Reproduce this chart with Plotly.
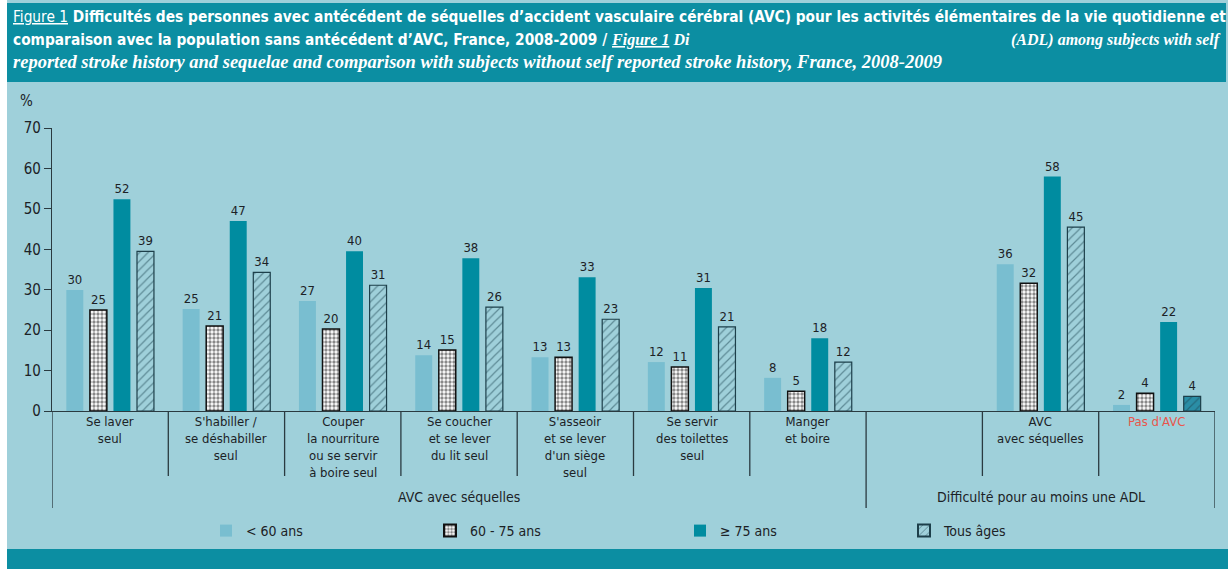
import plotly.graph_objects as go

# ---------------- data ----------------
categories = [
    "Se laver<br>seul",
    "S'habiller /<br>se déshabiller<br>seul",
    "Couper<br>la nourriture<br>ou se servir<br>à boire seul",
    "Se coucher<br>et se lever<br>du lit seul",
    "S'asseoir<br>et se lever<br>d'un siège<br>seul",
    "Se servir<br>des toilettes<br>seul",
    "Manger<br>et boire",
    "",
    "AVC<br>avec séquelles",
    "<span style='color:#e8564c'>Pas d'AVC</span>",
]
group_names = ["AVC avec séquelles", "Difficulté pour au moins une ADL"]
group_first = [0, 7]
group_last = [6, 9]

series_names = ["< 60 ans", "60 - 75 ans", "≥ 75 ans", "Tous âges"]
v_lt60 = [29.9, 25.2, 27.2, 13.8, 13.3, 12.1, 8.2, None, 36.3, 1.5]
v_60_75 = [25.0, 21.0, 20.3, 15.1, 13.3, 10.9, 4.9, None, 31.6, 4.4]
v_ge75 = [52.4, 47.0, 39.5, 37.8, 33.1, 30.4, 18.0, None, 58.0, 22.0]
v_all = [39.5, 34.3, 31.1, 25.7, 22.7, 20.8, 12.1, None, 45.5, 3.6]
lab_lt60 = ["30", "25", "27", "14", "13", "12", "8", "", "36", "2"]
lab_60_75 = ["25", "21", "20", "15", "13", "11", "5", "", "32", "4"]
lab_ge75 = ["52", "47", "40", "38", "33", "31", "18", "", "58", "22"]
lab_all = ["39", "34", "31", "26", "23", "21", "12", "", "45", "4"]

y_ticks = [0, 10, 20, 30, 40, 50, 60, 70]

title_l1 = ("<u><span style='font-weight:normal'>Figure 1</span></u> Difficultés des personnes avec antécédent de "
            "séquelles d’accident vasculaire cérébral (AVC) pour les activités élémentaires de la vie quotidienne et")
title_l2a = ("comparaison avec la population sans antécédent d’AVC, France, 2008-2009 / "
             "<span style='font-family:Liberation Serif;font-size:16px'><i><u>Figure 1</u> Di</i></span>")
title_l2b = "(ADL) among subjects with self"
title_l3 = ("reported stroke history and sequelae and comparison with subjects without self "
            "reported stroke history, France, 2008-2009")

# ---------------- styling ----------------
W, H = 1231, 569
BG = "#9fd0da"
TEAL = "#0c8ea2"
LIGHT = "#79bed0"
DARK = "#008ca0"
INK = "#1c2226"
LINE = "#2a3a40"
FONT = "Liberation Sans Narrow, DejaVu Sans Condensed, Arial Narrow, sans-serif"
SERIF = "Liberation Serif, DejaVu Serif, serif"

x0_px, x1_px = 52, 1215
y0_px, y70_px = 411, 128


def px(x):
    return x / W


def py(y):
    return 1 - y / H


xs = list(range(len(categories)))

fig = go.Figure()

common = dict(textposition="outside", cliponaxis=False,
              textfont=dict(family=FONT, size=13, color=INK))

fig.add_trace(go.Bar(x=xs, y=v_lt60, text=lab_lt60, name=series_names[0],
                     marker=dict(color=LIGHT, line=dict(width=0)), legend="legend", **common))
fig.add_trace(go.Bar(x=xs, y=v_60_75, text=lab_60_75, name=series_names[1],
                     marker=dict(color="white", line=dict(color="#111111", width=1.5),
                                 pattern=dict(shape=".", fgcolor="#111111", bgcolor="white",
                                              size=4, solidity=0.55)),
                     legend="legend2", **common))
fig.add_trace(go.Bar(x=xs, y=v_ge75, text=lab_ge75, name=series_names[2],
                     marker=dict(color=DARK, line=dict(width=0)), legend="legend3", **common))
all_bg = [BG] * (len(xs) - 1) + ["#2a8ea6"]
fig.add_trace(go.Bar(x=xs, y=v_all, text=lab_all, name=series_names[3],
                     marker=dict(color=BG, line=dict(color="#1d3f4a", width=1.2),
                                 pattern=dict(shape="/", fgcolor="#1d4552", bgcolor=all_bg,
                                              size=6, solidity=0.2)),
                     legend="legend4", **common))

shapes = []
# light background panel
shapes.append(dict(type="rect", xref="paper", yref="paper", x0=px(7), x1=px(1228), y0=0, y1=1,
                   fillcolor=BG, line=dict(width=0), layer="below"))
# title banner
shapes.append(dict(type="rect", xref="paper", yref="paper", x0=px(7), x1=px(1226), y0=py(82), y1=py(3),
                   fillcolor=TEAL, line=dict(width=0), layer="below"))
# bottom band
shapes.append(dict(type="rect", xref="paper", yref="paper", x0=px(7), x1=px(1228), y0=0, y1=py(549),
                   fillcolor=TEAL, line=dict(width=0), layer="below"))

# category separators
long_edges = set()
for a, b in zip(group_first, group_last):
    long_edges.add(a - 0.5)
    long_edges.add(b + 0.5)
for k in range(len(categories) + 1):
    xe = k - 0.5
    ybot = py(508) if xe in long_edges else py(476)
    shapes.append(dict(type="line", xref="x", yref="paper", x0=xe, x1=xe, y0=py(y0_px), y1=ybot,
                       line=dict(color=LINE, width=1.3)))

annotations = []
for i, c in enumerate(categories):
    if c:
        annotations.append(dict(x=i, xref="x", y=py(412), yref="paper", text=c, showarrow=False,
                                xanchor="center", yanchor="top",
                                font=dict(family=FONT, size=13, color=INK)))
for g, a, b in zip(group_names, group_first, group_last):
    annotations.append(dict(x=(a + b) / 2, xref="x", y=py(497), yref="paper", text=g, showarrow=False,
                            xanchor="center", yanchor="middle",
                            font=dict(family=FONT, size=14, color=INK)))
annotations.append(dict(x=px(27), y=py(101), xref="paper", yref="paper", text="%", showarrow=False,
                        xanchor="center", yanchor="middle", font=dict(family=FONT, size=15, color=INK)))

tfont = dict(family=FONT, size=15.3, color="white")
annotations.append(dict(x=px(11), y=py(17), xref="paper", yref="paper", text="<b>" + title_l1 + "</b>",
                        showarrow=False, xanchor="left", yanchor="middle", font=tfont))
annotations.append(dict(x=px(11), y=py(40), xref="paper", yref="paper", text="<b>" + title_l2a + "</b>",
                        showarrow=False, xanchor="left", yanchor="middle", font=tfont))
annotations.append(dict(x=px(1223), y=py(40), xref="paper", yref="paper", text="<b><i>" + title_l2b + "</i></b>",
                        showarrow=False, xanchor="right", yanchor="middle",
                        font=dict(family=SERIF, size=16, color="white")))
annotations.append(dict(x=px(11), y=py(62), xref="paper", yref="paper", text="<b><i>" + title_l3 + "</i></b>",
                        showarrow=False, xanchor="left", yanchor="middle",
                        font=dict(family=SERIF, size=18.5, color="white")))

leg_font = dict(family=FONT, size=14, color=INK)
leg_common = dict(orientation="h", yanchor="middle", y=py(531), xanchor="left",
                  bgcolor="rgba(0,0,0,0)", font=leg_font, itemsizing="constant")

fig.update_layout(
    width=W, height=H,
    margin=dict(l=0, r=0, t=0, b=0, pad=0, autoexpand=False),
    paper_bgcolor="white",
    plot_bgcolor="rgba(0,0,0,0)",
    barmode="group", bargap=0.19, bargroupgap=0.28,
    xaxis=dict(domain=[px(x0_px), px(x1_px)], range=[-0.5, len(categories) - 0.5],
               showticklabels=False, ticks="", showgrid=False, zeroline=False, automargin=False,
               showline=True, linecolor=LINE, linewidth=1.3, fixedrange=True),
    yaxis=dict(domain=[py(y0_px), py(y70_px)], range=[0, 70], tickvals=y_ticks, automargin=False,
               ticks="outside", ticklen=7, tickcolor=LINE, tickwidth=1.3,
               showline=True, linecolor=LINE, linewidth=1.3, showgrid=False, zeroline=False,
               tickfont=dict(family=FONT, size=15, color=INK)),
    shapes=shapes,
    annotations=annotations,
    showlegend=True,
    legend=dict(x=px(206), **leg_common),
    legend2=dict(x=px(430), **leg_common),
    legend3=dict(x=px(680), **leg_common),
    legend4=dict(x=px(904), **leg_common),
)

fig.write_html("out.html", config={"displayModeBar": False},
               post_script="document.body.style.margin='0px';document.body.style.overflow='hidden';")
